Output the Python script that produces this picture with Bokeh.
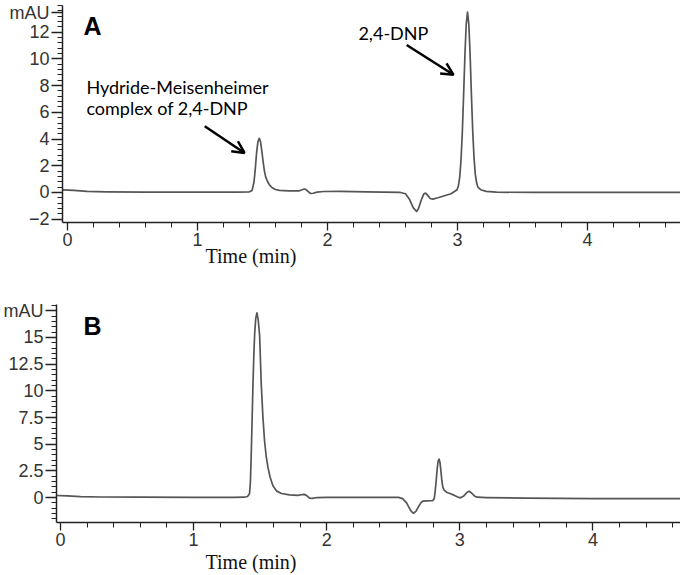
import numpy as np
from bokeh.plotting import figure
from bokeh.layouts import column, row
from bokeh.models import (Label, Arrow, OpenHead, SingleIntervalTicker, FixedTicker,
                          NumeralTickFormatter, Range1d, Title)
from bokeh.embed import file_html
from bokeh.resources import INLINE

# ---- Panel A chromatogram (time in min, absorbance in mAU) ----
t_a = [-0.035, 0.05, 0.15, 0.30, 0.60, 1.00, 1.30, 1.40, 1.42, 1.435, 1.445, 1.455,
       1.465, 1.475, 1.485, 1.495, 1.505, 1.515, 1.525, 1.54, 1.555, 1.575, 1.60,
       1.63, 1.70, 1.78, 1.80, 1.82, 1.835, 1.85, 1.87, 1.89, 1.92, 1.97, 2.10,
       2.30, 2.56, 2.60, 2.63, 2.66, 2.685, 2.70, 2.72, 2.74, 2.755, 2.77, 2.79,
       2.81, 2.85, 2.90, 2.95, 2.997, 3.007, 3.017, 3.027, 3.037, 3.047, 3.057,
       3.067, 3.077, 3.087, 3.097, 3.107, 3.117, 3.127, 3.137, 3.147, 3.157, 3.18,
       3.22, 3.30, 3.60, 4.00, 4.40, 4.72]
y_a = [0.20, 0.15, 0.08, 0.05, 0.03, 0.03, 0.03, 0.05, 0.15, 0.8, 1.8, 3.0,
       3.8, 4.05, 3.8, 3.1, 2.3, 1.6, 1.15, 0.8, 0.55, 0.35, 0.22,
       0.15, 0.12, 0.12, 0.18, 0.26, 0.22, 0.08, -0.08, -0.06, 0.02, 0.07, 0.08,
       0.05, 0.0, -0.1, -0.5, -1.15, -1.42, -1.2, -0.6, -0.12, -0.05, -0.2, -0.45,
       -0.5, -0.4, -0.25, -0.1, 0.2, 0.5, 1.15, 2.45, 4.5, 7.3, 10.3,
       12.6, 13.5, 12.6, 10.3, 7.3, 4.6, 2.6, 1.35, 0.7, 0.4, 0.2,
       0.08, 0.02, 0.0, 0.0, 0.0, 0.0]

# ---- Panel B chromatogram ----
t_b = [-0.03, 0.05, 0.15, 0.30, 0.60, 1.00, 1.30, 1.38, 1.405, 1.42, 1.427, 1.433,
       1.44, 1.446, 1.453, 1.459, 1.467, 1.476, 1.485, 1.496, 1.508, 1.521, 1.533,
       1.546, 1.559, 1.575, 1.596, 1.625, 1.66, 1.72, 1.785, 1.805, 1.83, 1.85,
       1.87, 1.89, 1.93, 2.00, 2.30, 2.54, 2.57, 2.60, 2.63, 2.65, 2.67, 2.69,
       2.71, 2.725, 2.75, 2.78, 2.795, 2.808, 2.815, 2.822, 2.83, 2.837, 2.844,
       2.851, 2.858, 2.865, 2.872, 2.882, 2.90, 2.93, 2.96, 2.985, 3.005, 3.03,
       3.055, 3.07, 3.09, 3.11, 3.13, 3.20, 3.50, 4.00, 4.66]
y_b = [0.19, 0.15, 0.08, 0.05, 0.03, 0.02, 0.02, 0.03, 0.1, 0.35, 1.5, 4.0,
       7.5, 10.6, 13.5, 15.4, 16.8, 17.3, 16.7, 15.2, 10.7, 7.5, 5.3,
       3.8, 2.8, 1.9, 1.1, 0.6, 0.38, 0.25, 0.2, 0.26, 0.3, 0.18,
       -0.05, -0.08, 0.0, 0.02, 0.02, 0.02, -0.1, -0.5, -1.2, -1.47, -1.3, -0.85,
       -0.45, -0.33, -0.32, -0.3, -0.3, -0.1, 0.6, 1.5, 2.7, 3.4, 3.6,
       3.3, 2.5, 1.6, 1.0, 0.7, 0.5, 0.35, 0.2, 0.05, -0.03, 0.15,
       0.5, 0.6, 0.4, 0.15, 0.03, 0.0, -0.05, -0.1, -0.1]

# y ticks
ticks_a = [-2, 0, 2, 4, 6, 8, 10, 12, 13.45]
unit_pos_a = 13.45          # where the unit label "mAU" sits on axis A
ticks_b_interval = 2.5
unit_pos_b = 17.5           # where the unit label "mAU" sits on axis B
unit_label = "mAU"
x_label = "Time (min)"

# annotation anchors (data units)
arrow_a1 = (1.056, 4.96, 1.362, 2.96)
arrow_a2 = (2.609, 11.04, 2.969, 8.81)

TICK_FONT = "Liberation Sans"
AX_COLOR = "#222222"
LINE_COLOR = "#555555"


def style(p):
    p.xgrid.visible = False
    p.ygrid.visible = False
    p.outline_line_color = None
    p.background_fill_color = "white"
    p.border_fill_color = "white"
    p.xaxis.ticker = SingleIntervalTicker(interval=1, num_minor_ticks=5)
    for ax in (p.xaxis[0], p.yaxis[0]):
        ax.axis_line_color = AX_COLOR
        ax.axis_line_width = 1.5
        ax.major_tick_line_color = AX_COLOR
        ax.minor_tick_line_color = AX_COLOR
        ax.major_tick_line_width = 1.3
        ax.minor_tick_line_width = 1.0
        ax.major_tick_in = 0
        ax.minor_tick_in = 0
        ax.major_label_text_font = TICK_FONT
        ax.major_label_text_font_size = "18px"
        ax.major_label_text_color = "#333333"
        ax.major_label_standoff = 2
    p.xaxis.major_tick_out = 8
    p.xaxis.minor_tick_out = 5
    p.yaxis.major_tick_out = 11
    p.yaxis.minor_tick_out = 5


def add_text(p, x, y, txt, size, font, bold=False):
    p.add_layout(Label(x=x, y=y, text=txt, text_font=font, text_font_size=size,
                       text_font_style="bold" if bold else "normal",
                       text_align="left", text_baseline="middle", text_color="black"))


def add_xlabel(p, offset, standoff):
    p.add_layout(Title(text=x_label, align="left", offset=offset, standoff=standoff,
                       text_font="Liberation Serif", text_font_size="20px",
                       text_font_style="normal", text_color="#111111"), "below")


# ---------------- Panel A ----------------
pA = figure(width=680, height=277, output_backend="svg", toolbar_location=None,
            x_range=Range1d(-0.038, 4.715), y_range=Range1d(-2.25, 14.0),
            min_border_left=62, min_border_right=0, min_border_top=5,
            min_border_bottom=55, title=None)
style(pA)
pA.yaxis.ticker = FixedTicker(ticks=ticks_a,
                              minor_ticks=list(np.round(np.arange(-2.0, 14.01, 0.4), 2)))
pA.yaxis.major_label_overrides = {unit_pos_a: unit_label}
pA.line(t_a, y_a, line_color=LINE_COLOR, line_width=1.7, line_join="round")
add_text(pA, 0.123, 12.44, "A", "25px", "Liberation Sans", bold=True)
add_text(pA, 0.146, 7.9, "Hydride-Meisenheimer", "18px", "Lato")
add_text(pA, 0.146, 6.33, "complex of 2,4-DNP", "18px", "Lato")
add_text(pA, 2.238, 11.92, "2,4-DNP", "18px", "Lato")
add_xlabel(pA, 143, -11)
for (x0, y0, x1, y1) in (arrow_a1, arrow_a2):
    pA.add_layout(Arrow(x_start=x0, y_start=y0, x_end=x1, y_end=y1,
                        line_width=2.5, line_color="black",
                        end=OpenHead(size=12, line_width=2.5, line_color="black")))

# ---------------- Panel B ----------------
pB = figure(width=680, height=298, output_backend="svg", toolbar_location=None,
            x_range=Range1d(-0.03, 4.658), y_range=Range1d(-2.34, 18.09),
            min_border_left=55, min_border_right=0, min_border_top=27,
            min_border_bottom=53, title=None)
style(pB)
pB.yaxis.ticker = SingleIntervalTicker(interval=ticks_b_interval, num_minor_ticks=5)
pB.yaxis.formatter = NumeralTickFormatter(format="0.[0]")
pB.yaxis.major_label_overrides = {unit_pos_b: unit_label}
pB.line(t_b, y_b, line_color=LINE_COLOR, line_width=1.7, line_join="round")
add_text(pB, 0.173, 16.1, "B", "25px", "Liberation Sans", bold=True)
add_xlabel(pB, 149, 0)

layout = column(row(pA), row(pB), spacing=0)
open("out.html", "w").write(file_html(layout, INLINE))
